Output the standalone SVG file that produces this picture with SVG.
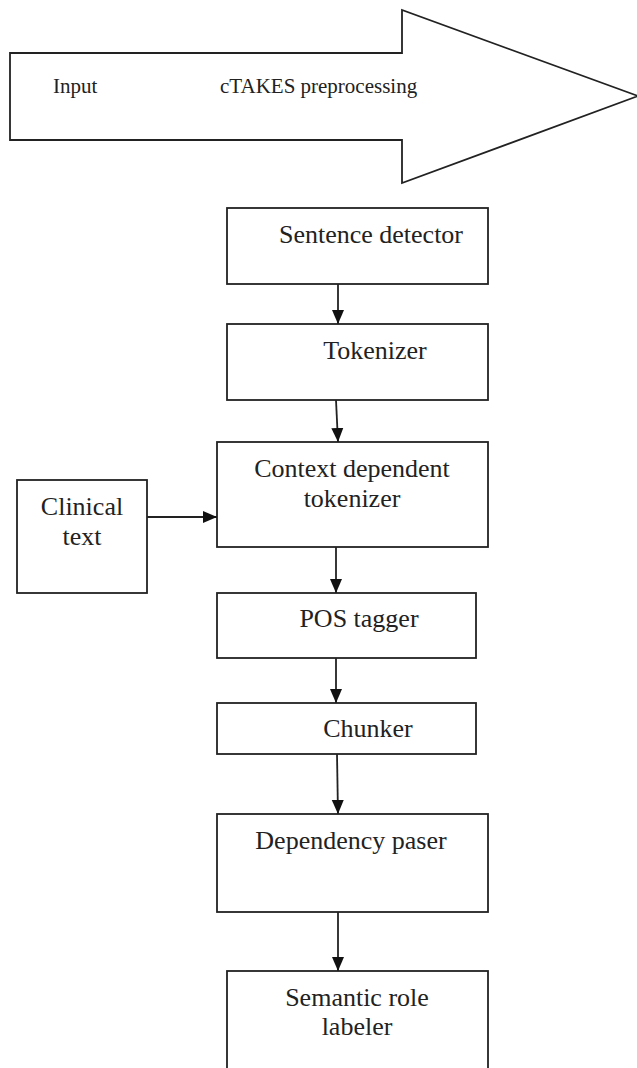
<svg xmlns="http://www.w3.org/2000/svg" width="637" height="1068" viewBox="0 0 637 1068">
<style>
.box{fill:#fff;stroke:#222;stroke-width:1.8}
.t{font-family:"Liberation Serif","Times New Roman",serif;font-size:26px;fill:#222;text-anchor:middle}
.ta{font-family:"Liberation Serif","Times New Roman",serif;font-size:21px;fill:#222}
.c{stroke:#222;stroke-width:1.8;fill:none}
</style>
<defs>
<marker id="ah" viewBox="0 0 14 14" refX="14" refY="7" markerWidth="14" markerHeight="14" markerUnits="userSpaceOnUse" orient="auto">
<path d="M0,1 L14,7 L0,13 Z" fill="#111"/>
</marker>
</defs>
<g id="banner">
<polygon class="box" points="10,53 402,53 402,10 638,96 402,183 402,140 10,140"/>
<text class="ta" x="53" y="93">Input</text>
<text class="ta" x="220" y="93">cTAKES preprocessing</text>
</g>
<g id="sentence">
<rect class="box" x="227" y="208" width="261" height="76"/>
<text class="t" x="371" y="243">Sentence detector</text>
</g>
<g id="tokenizer">
<rect class="box" x="227" y="324" width="261" height="76"/>
<text class="t" x="375" y="359">Tokenizer</text>
</g>
<g id="context">
<rect class="box" x="217" y="442" width="271" height="105"/>
<text class="t" x="352" y="477">Context dependent</text>
<text class="t" x="352" y="507">tokenizer</text>
</g>
<g id="clinical">
<rect class="box" x="17" y="480" width="130" height="113"/>
<text class="t" x="82" y="515">Clinical</text>
<text class="t" x="82" y="545">text</text>
</g>
<g id="pos">
<rect class="box" x="217" y="593" width="259" height="65"/>
<text class="t" x="359" y="627">POS tagger</text>
</g>
<g id="chunker">
<rect class="box" x="217" y="703" width="259" height="51"/>
<text class="t" x="368" y="737">Chunker</text>
</g>
<g id="dependency">
<rect class="box" x="217" y="814" width="271" height="98"/>
<text class="t" x="351" y="849">Dependency paser</text>
</g>
<g id="semantic">
<rect class="box" x="227" y="971" width="261" height="110"/>
<text class="t" x="357" y="1006">Semantic role</text>
<text class="t" x="357" y="1035">labeler</text>
</g>
<g id="connectors">
<line class="c" x1="338" y1="284" x2="338" y2="324" marker-end="url(#ah)"/>
<line class="c" x1="336" y1="400" x2="338" y2="442" marker-end="url(#ah)"/>
<line class="c" x1="147" y1="517" x2="217" y2="517" marker-end="url(#ah)"/>
<line class="c" x1="336" y1="547" x2="336" y2="593" marker-end="url(#ah)"/>
<line class="c" x1="336" y1="658" x2="336" y2="703" marker-end="url(#ah)"/>
<line class="c" x1="337" y1="754" x2="338" y2="814" marker-end="url(#ah)"/>
<line class="c" x1="338" y1="912" x2="338" y2="971" marker-end="url(#ah)"/>
</g>
</svg>
